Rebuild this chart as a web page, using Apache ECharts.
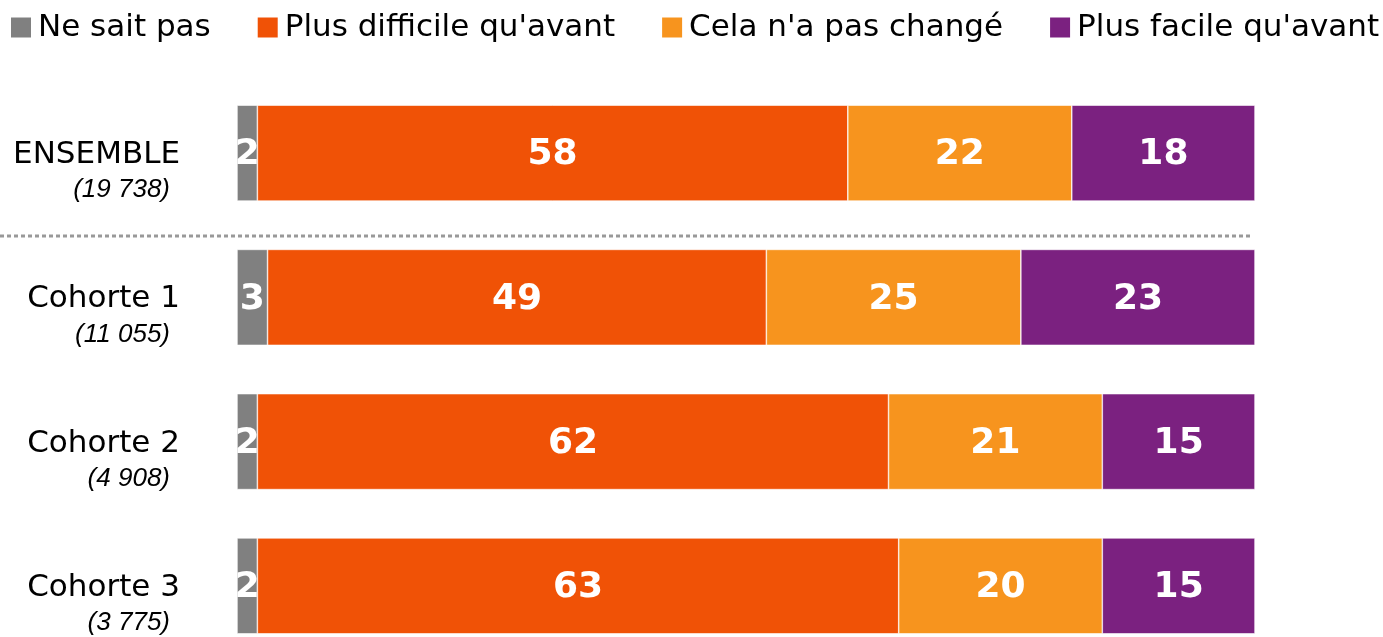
<!DOCTYPE html>
<html>
<head>
<meta charset="utf-8">
<script src="https://cdn.jsdelivr.net/npm/echarts@6/dist/echarts.min.js"></script>
<style>
  html, body { margin: 0; padding: 0; background: #fff; overflow: hidden; }
  #chart { width: 1383px; height: 700px; }
</style>
</head>
<body>
<div id="chart"></div>
<script>
(function () {
  const groups = ["ENSEMBLE", "Cohorte 1", "Cohorte 2", "Cohorte 3"];
  const counts = ["(19 738)", "(11 055)", "(4 908)", "(3 775)"];

  const seriesNames = ["Ne sait pas", "Plus difficile qu'avant", "Cela n'a pas changé", "Plus facile qu'avant"];
  const colors = ["#808080", "#F05206", "#F7941E", "#7B2180"];

  const neSaitPas = [2, 3, 2, 2];
  const plusDifficile = [58, 49, 62, 63];
  const pasChange = [22, 25, 21, 20];
  const plusFacile = [18, 23, 15, 15];

  const values = [neSaitPas, plusDifficile, pasChange, plusFacile];

  const font = "DejaVu Sans";
  const chart = echarts.init(document.getElementById("chart"));

  const option = {
    animation: false,
    textStyle: { fontFamily: font },
    legend: {
      data: seriesNames,
      top: 7,
      left: 4,
      width: 1380,
      itemWidth: 22,
      itemHeight: 22,
      itemGap: 45,
      icon: "rect",
      textStyle: { fontSize: 31, color: "#000", fontFamily: font, padding: [0, 0, 0, 1] }
    },
    grid: { left: 237, right: 128, top: 81, height: 577 },
    xAxis: {
      type: "value",
      min: 0,
      max: 100,
      show: false
    },
    yAxis: {
      type: "category",
      inverse: true,
      data: groups,
      axisLine: { show: false },
      axisTick: { show: false },
      axisLabel: {
        margin: 57,
        align: "right",
        padding: [34, 0, 0, 0],
        formatter: function (v, i) {
          return "{n|" + v + "}\n{c|" + counts[i] + "}";
        },
        rich: {
          n: { fontSize: 31, lineHeight: 40, color: "#000", fontFamily: font },
          c: { fontSize: 26, lineHeight: 30, fontStyle: "italic", color: "#000", padding: [0, 10, 0, 0], fontFamily: "Liberation Sans" }
        }
      }
    },
    series: seriesNames.map(function (name, k) {
      return {
        name: name,
        type: "bar",
        stack: "total",
        barCategoryGap: "33.5%",
        data: values[k],
        itemStyle: { color: colors[k], borderColor: "#fff", borderWidth: 0.6 },
        label: {
          show: true,
          position: "inside",
          offset: [0, 2],
          color: "#fff",
          fontWeight: "bold",
          fontSize: 36,
          fontFamily: font
        }
      };
    })
  };

  chart.setOption(option);

  // dotted separator between ENSEMBLE and the cohorts
  const y0 = chart.convertToPixel({ yAxisIndex: 0 }, groups[0]);
  const y1 = chart.convertToPixel({ yAxisIndex: 0 }, groups[1]);
  const ySep = Math.round((y0 + y1) / 2) + 11;
  const xEnd = chart.convertToPixel({ xAxisIndex: 0 }, 100) - 3;
  chart.setOption({
    graphic: [{
      type: "line",
      shape: { x1: 0, y1: ySep, x2: xEnd, y2: ySep },
      style: { stroke: "#999", lineWidth: 3, lineDash: [4, 3] }
    }]
  });
})();
</script>
</body>
</html>
